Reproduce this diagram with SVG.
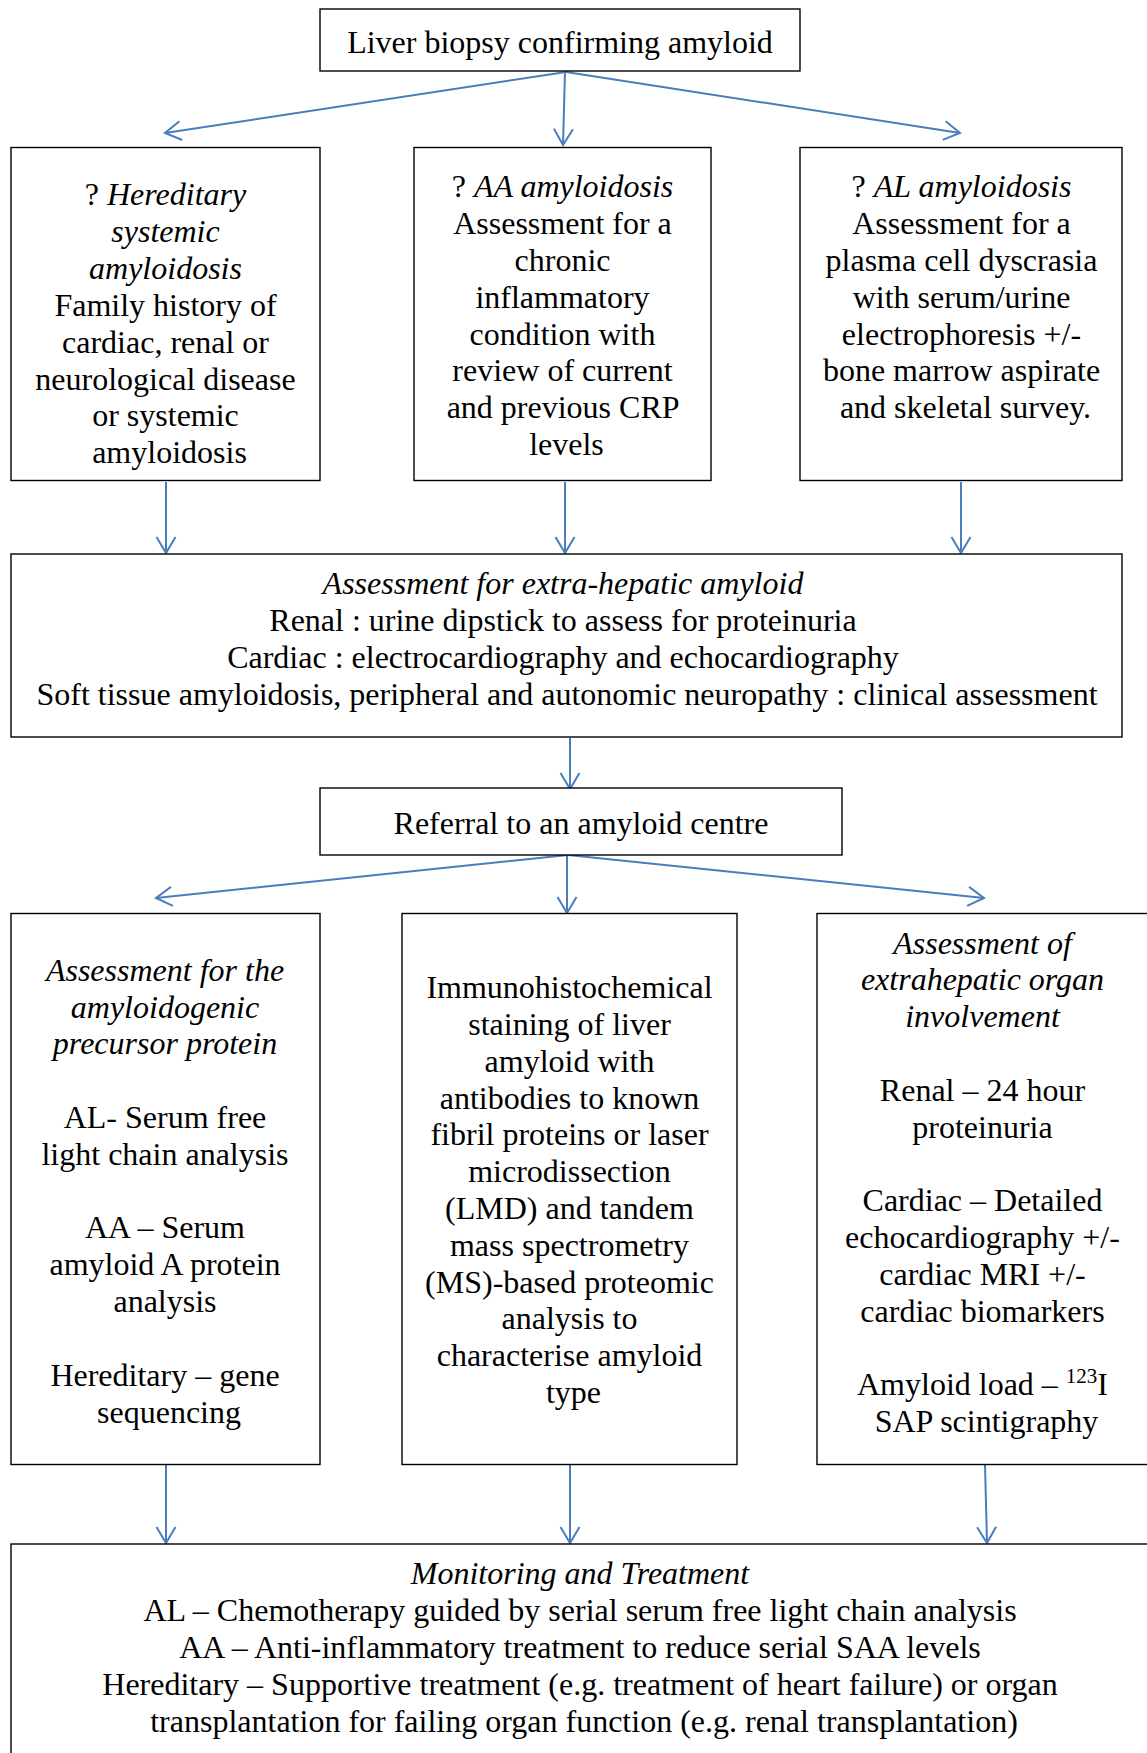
<svg xmlns="http://www.w3.org/2000/svg" width="1147" height="1753" viewBox="0 0 1147 1753">
<defs>
<style>
.box{fill:#fff;stroke:#000;stroke-width:1.4}
.t{font-family:"Liberation Serif","Times New Roman",serif;font-size:32px;fill:#000;text-anchor:middle}
.i{font-style:italic}
.c{fill:none;stroke:#4a7ebb;stroke-width:2}
</style>
<marker id="ah" markerUnits="userSpaceOnUse" markerWidth="40" markerHeight="40" viewBox="-20 -20 40 40" refX="0" refY="0" orient="auto">
<path d="M-16,-9.5 L0,0 L-16,9.5" fill="none" stroke="#4a7ebb" stroke-width="2"/>
</marker>
</defs>
<rect width="1147" height="1753" fill="#fff"/>

<g id="connectors">
<line class="c" x1="566" y1="72" x2="165" y2="133" marker-end="url(#ah)"/>
<line class="c" x1="565" y1="72" x2="563" y2="145" marker-end="url(#ah)"/>
<line class="c" x1="566" y1="72" x2="960" y2="133" marker-end="url(#ah)"/>
<line class="c" x1="166" y1="482" x2="166" y2="553" marker-end="url(#ah)"/>
<line class="c" x1="565" y1="482" x2="565" y2="553" marker-end="url(#ah)"/>
<line class="c" x1="961" y1="482" x2="961" y2="553" marker-end="url(#ah)"/>
<line class="c" x1="570" y1="738" x2="570" y2="789" marker-end="url(#ah)"/>
<line class="c" x1="568" y1="855" x2="156" y2="898" marker-end="url(#ah)"/>
<line class="c" x1="567" y1="855" x2="567" y2="913" marker-end="url(#ah)"/>
<line class="c" x1="568" y1="855" x2="984" y2="898" marker-end="url(#ah)"/>
<line class="c" x1="166" y1="1465" x2="166" y2="1543" marker-end="url(#ah)"/>
<line class="c" x1="570" y1="1465" x2="570" y2="1543" marker-end="url(#ah)"/>
<line class="c" x1="985" y1="1465" x2="987" y2="1543" marker-end="url(#ah)"/>
</g>

<g id="n-liver">
<rect class="box" x="320" y="9" width="480" height="62"/>
<text class="t" x="560" y="53">Liver biopsy confirming amyloid</text>
</g>

<g id="n-hereditary">
<rect class="box" x="11" y="147.5" width="309" height="333"/>
<text class="t" x="169.5">
<tspan x="169.5" y="205">? <tspan class="i">Hereditary</tspan></tspan>
<tspan x="169.5" y="242" class="i">systemic</tspan>
<tspan x="169.5" y="279" class="i">amyloidosis</tspan>
<tspan x="169.5" y="316">Family history of</tspan>
<tspan x="169.5" y="352.5">cardiac, renal or</tspan>
<tspan x="169.5" y="389.5">neurological disease</tspan>
<tspan x="169.5" y="426">or systemic</tspan>
<tspan x="169.5" y="463">amyloidosis</tspan>
</text>
</g>

<g id="n-aa">
<rect class="box" x="414" y="147.5" width="297" height="333"/>
<text class="t" x="566.5">
<tspan x="566.5" y="197">? <tspan class="i">AA amyloidosis</tspan></tspan>
<tspan x="566.5" y="234">Assessment for a</tspan>
<tspan x="566.5" y="271">chronic</tspan>
<tspan x="566.5" y="307.5">inflammatory</tspan>
<tspan x="566.5" y="344.5">condition with</tspan>
<tspan x="566.5" y="381">review of current</tspan>
<tspan x="566.5" y="418">and previous CRP</tspan>
<tspan x="566.5" y="455">levels</tspan>
</text>
</g>

<g id="n-al">
<rect class="box" x="800" y="147.5" width="322" height="333"/>
<text class="t" x="965.5">
<tspan x="965.5" y="197">? <tspan class="i">AL amyloidosis</tspan></tspan>
<tspan x="965.5" y="234">Assessment for a</tspan>
<tspan x="965.5" y="271">plasma cell dyscrasia</tspan>
<tspan x="965.5" y="307.5">with serum/urine</tspan>
<tspan x="965.5" y="344.5">electrophoresis +/-</tspan>
<tspan x="965.5" y="381">bone marrow aspirate</tspan>
<tspan x="965.5" y="418">and skeletal survey.</tspan>
</text>
</g>

<g id="n-extrahepatic">
<rect class="box" x="11" y="554" width="1111" height="183"/>
<text class="t" x="567">
<tspan x="567" y="593.5" class="i">Assessment for extra-hepatic amyloid</tspan>
<tspan x="567" y="630.5">Renal : urine dipstick to assess for proteinuria</tspan>
<tspan x="567" y="667.5">Cardiac : electrocardiography and echocardiography</tspan>
<tspan x="567" y="704.5">Soft tissue amyloidosis, peripheral and autonomic neuropathy : clinical assessment</tspan>
</text>
</g>

<g id="n-referral">
<rect class="box" x="320" y="788" width="522" height="67"/>
<text class="t" x="581" y="834">Referral to an amyloid centre</text>
</g>

<g id="n-precursor">
<rect class="box" x="11" y="913.5" width="309" height="551"/>
<text class="t" x="169">
<tspan x="169" y="980.5" class="i">Assessment for the</tspan>
<tspan x="169" y="1017.5" class="i">amyloidogenic</tspan>
<tspan x="169" y="1054" class="i">precursor protein</tspan>
<tspan x="169" y="1127.5">AL- Serum free</tspan>
<tspan x="169" y="1164.5">light chain analysis</tspan>
<tspan x="169" y="1238">AA – Serum</tspan>
<tspan x="169" y="1274.5">amyloid A protein</tspan>
<tspan x="169" y="1311.5">analysis</tspan>
<tspan x="169" y="1385.5">Hereditary – gene</tspan>
<tspan x="169" y="1422.5">sequencing</tspan>
</text>
</g>

<g id="n-immuno">
<rect class="box" x="402" y="913.5" width="335" height="551"/>
<text class="t" x="573.5">
<tspan x="573.5" y="998">Immunohistochemical</tspan>
<tspan x="573.5" y="1034.5">staining of liver</tspan>
<tspan x="573.5" y="1071.5">amyloid with</tspan>
<tspan x="573.5" y="1108.5">antibodies to known</tspan>
<tspan x="573.5" y="1145">fibril proteins or laser</tspan>
<tspan x="573.5" y="1182">microdissection</tspan>
<tspan x="573.5" y="1218.5">(LMD) and tandem</tspan>
<tspan x="573.5" y="1255.5">mass spectrometry</tspan>
<tspan x="573.5" y="1292.5">(MS)-based proteomic</tspan>
<tspan x="573.5" y="1329">analysis to</tspan>
<tspan x="573.5" y="1366">characterise amyloid</tspan>
<tspan x="573.5" y="1402.5">type</tspan>
</text>
</g>

<g id="n-organ">
<rect class="box" x="817" y="913.5" width="332" height="551"/>
<text class="t" x="986.5">
<tspan x="986.5" y="953.5" class="i">Assessment of</tspan>
<tspan x="986.5" y="990" class="i">extrahepatic organ</tspan>
<tspan x="986.5" y="1027" class="i">involvement</tspan>
<tspan x="986.5" y="1100.5">Renal – 24 hour</tspan>
<tspan x="986.5" y="1137.5">proteinuria</tspan>
<tspan x="986.5" y="1211">Cardiac – Detailed</tspan>
<tspan x="986.5" y="1247.5">echocardiography +/-</tspan>
<tspan x="986.5" y="1284.5">cardiac MRI +/-</tspan>
<tspan x="986.5" y="1321.5">cardiac biomarkers</tspan>
<tspan x="986.5" y="1395">Amyloid load – <tspan font-size="21" dy="-12">123</tspan><tspan dy="12">I</tspan></tspan>
<tspan x="986.5" y="1431.5">SAP scintigraphy</tspan>
</text>
</g>

<g id="n-monitoring">
<rect class="box" x="11" y="1544" width="1138" height="215"/>
<text class="t" x="584">
<tspan x="584" y="1584" class="i">Monitoring and Treatment</tspan>
<tspan x="584" y="1621">AL – Chemotherapy guided by serial serum free light chain analysis</tspan>
<tspan x="584" y="1658">AA – Anti-inflammatory treatment to reduce serial SAA levels</tspan>
<tspan x="584" y="1695">Hereditary – Supportive treatment (e.g. treatment of heart failure) or organ</tspan>
<tspan x="584" y="1732">transplantation for failing organ function (e.g. renal transplantation)</tspan>
</text>
</g>
</svg>
